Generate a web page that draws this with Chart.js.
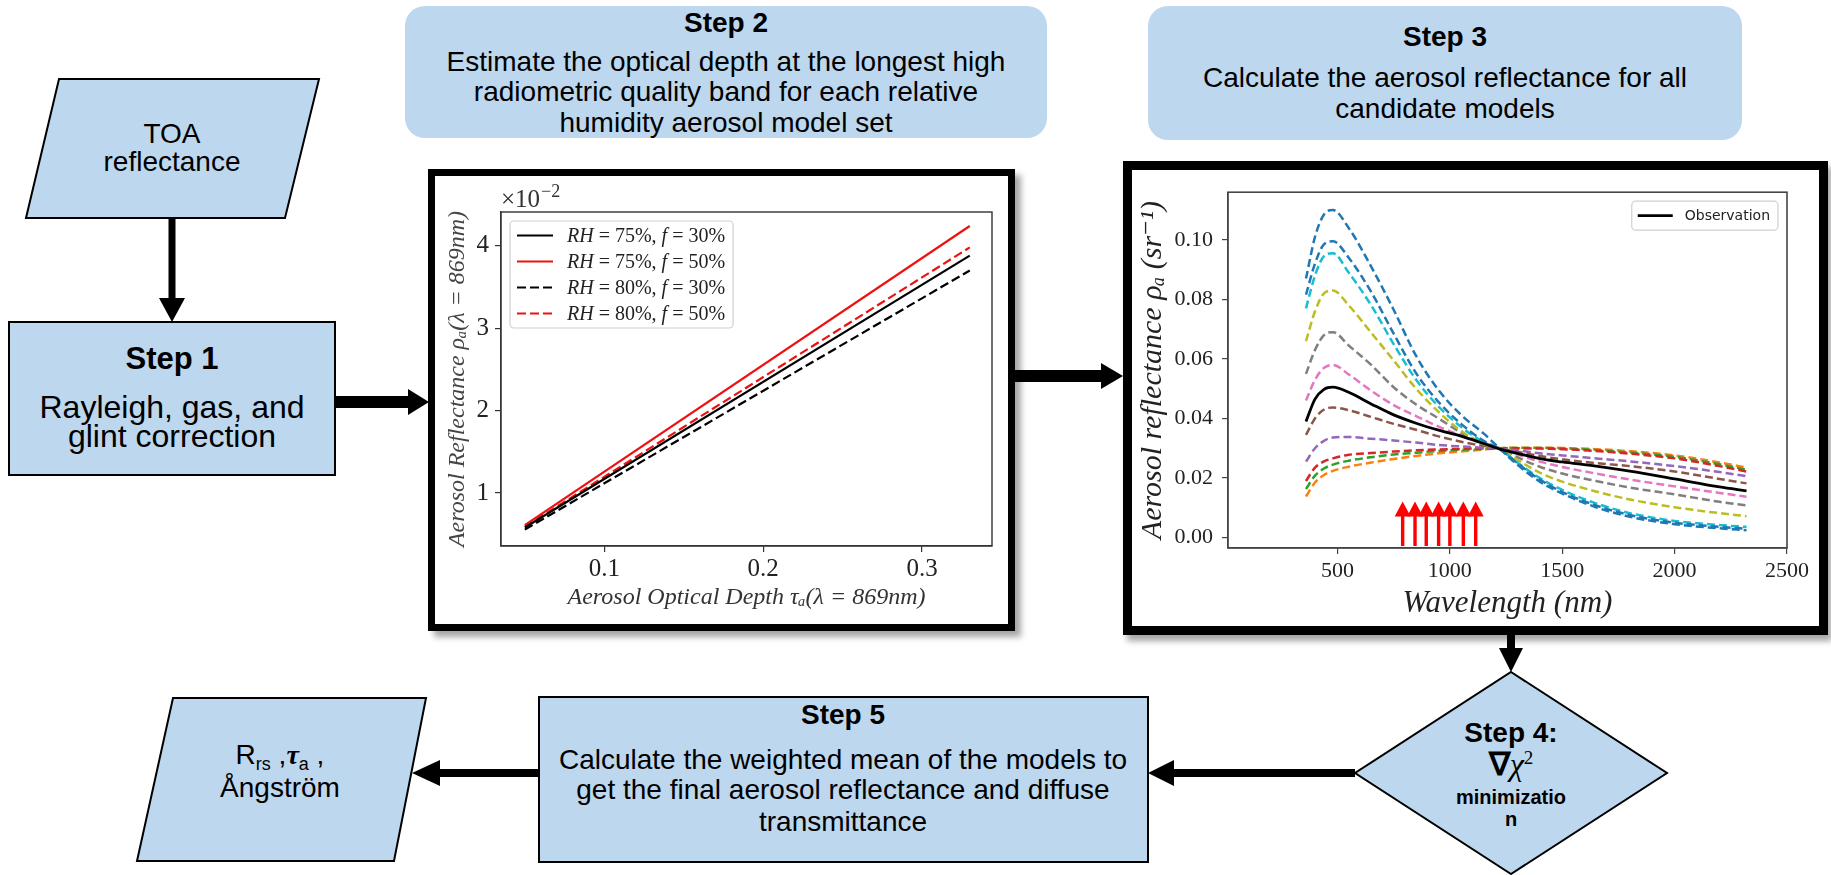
<!DOCTYPE html>
<html>
<head>
<meta charset="utf-8">
<title>Aerosol retrieval steps</title>
<script src="https://cdn.jsdelivr.net/npm/chart.js@4.4.1/dist/chart.umd.min.js"></script>
<style>
  html, body { margin: 0; padding: 0; background: #fff; }
  body { position: relative; width: 1831px; height: 875px; overflow: hidden;
         font-family: "Liberation Sans", Arial, sans-serif; color: #000; }
  svg.flow { position: absolute; left: 0; top: 0; }
  .t { position: absolute; transform: translate(-50%, -50%); white-space: nowrap; line-height: 1; }
  .b { font-weight: bold; }
  .f28 { font-size: 28px; }
  .f32 { font-size: 32px; }
  .panel { position: absolute; box-sizing: border-box; border: solid #000; background: #fff; }
  .panel canvas { display: block; }
  .serif { font-family: "Liberation Serif", serif; }
</style>
</head>
<body>

<svg class="flow" width="1831" height="875">
  <g fill="#BDD7EE" stroke="#000" stroke-width="2">
    <polygon points="59,79 319,79 285,218 26,218"/>
    <rect x="9" y="322" width="326" height="153"/>
    <rect x="539" y="697" width="609" height="165"/>
    <polygon points="173,698 426,698 394,861 137,861"/>
    <polygon points="1511,672 1667,773 1511,874 1355,773"/>
  </g>
  <rect x="405" y="6" width="642" height="132" rx="20" fill="#BDD7EE"/>
  <rect x="1148" y="6" width="594" height="134" rx="20" fill="#BDD7EE"/>

  <!-- connectors -->
  <g stroke="#000">
    <line x1="172" y1="219" x2="172" y2="300" stroke-width="7"/>
    <line x1="336" y1="402" x2="410" y2="402" stroke-width="12"/>
    <line x1="1015" y1="376" x2="1103" y2="376" stroke-width="12"/>
    <line x1="1511" y1="635" x2="1511" y2="650" stroke-width="8"/>
    <line x1="1355" y1="773" x2="1172" y2="773" stroke-width="8"/>
    <line x1="539" y1="773" x2="438" y2="773" stroke-width="8"/>
  </g>
  <g fill="#000">
    <polygon points="159,298 185,298 172,322"/>
    <polygon points="408,389 408,415 429,402"/>
    <polygon points="1101,363 1101,389 1123,376"/>
    <polygon points="1499,648 1523,648 1511,672"/>
    <polygon points="1174,760 1174,786 1148,773"/>
    <polygon points="440,760 440,786 412,773"/>
  </g>
</svg>

<div class="t f28" style="left:172px;top:134px">TOA</div>
<div class="t f28" style="left:172px;top:162px">reflectance</div>

<div class="t b" style="left:172px;top:358px;font-size:31px">Step 1</div>
<div class="t f32" style="left:172px;top:407px">Rayleigh, gas, and</div>
<div class="t f32" style="left:172px;top:436px">glint correction</div>

<div class="t f28 b" style="left:726px;top:23px">Step 2</div>
<div class="t f28" style="left:726px;top:62px">Estimate the optical depth at the longest high</div>
<div class="t f28" style="left:726px;top:92px">radiometric quality band for each relative</div>
<div class="t f28" style="left:726px;top:123px">humidity aerosol model set</div>

<div class="t f28 b" style="left:1445px;top:37px">Step 3</div>
<div class="t f28" style="left:1445px;top:78px">Calculate the aerosol reflectance for all</div>
<div class="t f28" style="left:1445px;top:109px">candidate models</div>

<div class="t b" style="left:1511px;top:733px;font-size:28px">Step 4:</div>
<div class="t" style="left:1511px;top:764px;font-size:32px"><b>&#8711;</b><i class="serif">&#967;</i><sup class="serif" style="font-size:19px">2</sup></div>
<div class="t b" style="left:1511px;top:797px;font-size:20px">minimizatio</div>
<div class="t b" style="left:1511px;top:819px;font-size:20px">n</div>

<div class="t f28 b" style="left:843px;top:715px">Step 5</div>
<div class="t f28" style="left:843px;top:760px">Calculate the weighted mean of the models to</div>
<div class="t f28" style="left:843px;top:790px">get the final aerosol reflectance and diffuse</div>
<div class="t f28" style="left:843px;top:822px">transmittance</div>

<div class="t f28" style="left:280px;top:757px">R<sub style="font-size:18px">rs</sub> ,<b><i class="serif">&#964;</i></b><sub style="font-size:18px">a</sub> ,</div>
<div class="t f28" style="left:280px;top:788px">&#197;ngstr&#246;m</div>

<div class="panel" style="left:428px;top:169px;width:587px;height:462px;border-width:7px;box-shadow:6px 6px 6px rgba(0,0,0,.35)">
  <canvas id="depthChart" width="573" height="448"></canvas>
</div>
<div class="panel" style="left:1123px;top:161px;width:705px;height:474px;border-width:9px;box-shadow:4px 6px 6px rgba(0,0,0,.35)">
  <canvas id="spectraChart" width="687" height="456"></canvas>
</div>

<script>
// ---- Step 2 panel: reflectance at 869 nm (x1e-2) against optical depth ----
const tauRange   = [0.05, 0.33];
const rhoRH75f30 = [0.58, 3.88];
const rhoRH75f50 = [0.61, 4.24];
const rhoRH80f30 = [0.555, 3.70];
const rhoRH80f50 = [0.59, 3.98];
const tauTicks = [0.1, 0.2, 0.3];
const rhoTicks = [1, 2, 3, 4];

// ---- Step 3 panel: candidate model spectra ----
const wavelengths = [360, 400, 440, 480, 550, 650, 750, 850, 950, 1050, 1150, 1220, 1300, 1400, 1500, 1650, 1800, 2000, 2200, 2320];
const observation = [.0390, .0465, .0498, .0505, .0488, .0449, .0412, .0384, .0361, .0341, .0316, .0298, .0283, .0265, .0254, .0240, .0223, .0197, .0170, .0157];
const modelBlueA  = [.0870, .1010, .1085, .1100, .1040, .0910, .0765, .0610, .0495, .0412, .0350, .0300, .0245, .0188, .0148, .0102, .0070, .0045, .0031, .0025];
const modelBlueB  = [.0816, .0920, .0985, .0995, .0940, .0825, .0685, .0552, .0455, .0382, .0325, .0298, .0250, .0195, .0153, .0108, .0076, .0050, .0036, .0030];
const modelCyan   = [.0770, .0880, .0945, .0955, .0890, .0780, .0650, .0530, .0440, .0372, .0320, .0298, .0252, .0200, .0160, .0115, .0082, .0056, .0042, .0036];
const modelOlive  = [.0660, .0760, .0820, .0830, .0780, .0688, .0595, .0500, .0422, .0358, .0315, .0299, .0262, .0218, .0188, .0155, .0128, .0102, .0082, .0072];
const modelGray   = [.0550, .0630, .0680, .0690, .0645, .0580, .0505, .0447, .0400, .0352, .0313, .0300, .0270, .0238, .0215, .0190, .0168, .0145, .0120, .0108];
const modelPink   = [.0460, .0530, .0570, .0580, .0548, .0493, .0445, .0408, .0373, .0343, .0318, .0301, .0280, .0255, .0237, .0215, .0195, .0172, .0150, .0137];
const modelBrown  = [.0345, .0400, .0430, .0437, .0428, .0405, .0382, .0362, .0340, .0322, .0308, .0299, .0288, .0274, .0263, .0250, .0240, .0222, .0197, .0182];
const modelPurple = [.0255, .0300, .0325, .0336, .0338, .0332, .0326, .0319, .0311, .0306, .0302, .0299, .0293, .0283, .0276, .0266, .0256, .0240, .0220, .0206];
const modelRed    = [.0190, .0235, .0256, .0266, .0278, .0284, .0289, .0293, .0296, .0298, .0300, .0300, .0300, .0299, .0297, .0291, .0282, .0266, .0240, .0222];
const modelGreen  = [.0163, .0208, .0232, .0245, .0258, .0270, .0279, .0285, .0291, .0295, .0298, .0300, .0301, .0301, .0299, .0294, .0286, .0271, .0246, .0228];
const modelOrange = [.0138, .0185, .0210, .0224, .0238, .0252, .0264, .0274, .0283, .0289, .0296, .0300, .0302, .0302, .0301, .0297, .0290, .0276, .0252, .0235];
const bandCenters = [790, 845, 895, 950, 1000, 1060, 1115];
const arrowTip = 0.0121;
const wlTicks = [500, 1000, 1500, 2000, 2500];
const reflTicks = [0, 0.02, 0.04, 0.06, 0.08, 0.10];

const serif = '"Liberation Serif", "DejaVu Serif", serif';

// letters in italic, everything else upright (math-style labels)
function mathParts(str, math) {
  return math ? str.split(/([A-Za-z]+)/).filter(p => p) : [str];
}
function setFont(ctx, part, size, family, math) {
  const ital = math && /^[A-Za-z]+$/.test(part);
  ctx.font = (ital ? 'italic ' : '') + size + 'px ' + family;
}
function mathWidth(ctx, str, size, family, math) {
  let w = 0;
  mathParts(str, math).forEach(p => { setFont(ctx, p, size, family, math); w += ctx.measureText(p).width; });
  return w;
}
function drawMath(ctx, str, x, y, size, family, math) {
  let cx = x;
  mathParts(str, math).forEach(p => {
    setFont(ctx, p, size, family, math);
    ctx.fillText(p, cx, y);
    cx += ctx.measureText(p).width;
  });
}

// four-sided axes frame
const frame = {
  id: 'frame',
  afterDatasetsDraw(chart, args, o) {
    const { ctx, chartArea: a } = chart;
    ctx.save();
    ctx.strokeStyle = o.color;
    ctx.lineWidth = o.width;
    ctx.strokeRect(a.left, a.top, a.right - a.left, a.bottom - a.top);
    ctx.restore();
  }
};

// boxed legend drawn inside the plot area
const frameLegend = {
  id: 'frameLegend',
  afterDraw(chart, args, o) {
    const { ctx, chartArea: a } = chart;
    const items = chart.data.datasets.filter(d => d.label);
    ctx.save();
    ctx.textBaseline = 'middle';
    const textW = Math.max(...items.map(d => mathWidth(ctx, d.label, o.size, o.family, o.math)));
    const w = o.textX + textW + o.padRight;
    const h = o.rowH * items.length + o.padV;
    const x0 = o.side === 'right' ? a.right - o.inset - w : a.left + o.inset;
    const y0 = a.top + o.inset;
    ctx.fillStyle = 'rgba(255,255,255,0.85)';
    ctx.strokeStyle = '#cfcfcf';
    ctx.lineWidth = 1.2;
    ctx.beginPath();
    ctx.roundRect(x0, y0, w, h, 4);
    ctx.fill();
    ctx.stroke();
    items.forEach((d, i) => {
      const cy = y0 + o.padV / 2 + o.rowH * (i + 0.5);
      ctx.strokeStyle = d.borderColor;
      ctx.lineWidth = d.borderWidth;
      ctx.setLineDash(d.borderDash || []);
      ctx.beginPath();
      ctx.moveTo(x0 + o.lineX, cy);
      ctx.lineTo(x0 + o.lineX + o.lineLen, cy);
      ctx.stroke();
      ctx.setLineDash([]);
      ctx.fillStyle = o.color;
      drawMath(ctx, d.label, x0 + o.textX, cy + 1, o.size, o.family, o.math);
    });
    ctx.restore();
  }
};

// "x10^-2" multiplier above the y axis
const offsetText = {
  id: 'offsetText',
  afterDraw(chart, args, o) {
    const { ctx, chartArea: a } = chart;
    ctx.save();
    ctx.fillStyle = o.color;
    ctx.textBaseline = 'alphabetic';
    ctx.font = '25px ' + serif;
    ctx.fillText('\u00d710', a.left, a.top - 5);
    const w = ctx.measureText('\u00d710').width;
    ctx.font = '18px ' + serif;
    ctx.fillText('\u22122', a.left + w + 1, a.top - 15);
    ctx.restore();
  }
};

// upward arrows marking the bands used for the fit
const bandArrows = {
  id: 'bandArrows',
  afterDatasetsDraw(chart, args, o) {
    const { ctx, chartArea: a, scales: { x, y } } = chart;
    ctx.save();
    ctx.fillStyle = o.color;
    ctx.strokeStyle = o.color;
    ctx.lineWidth = 3.4;
    o.bands.forEach(b => {
      const px = x.getPixelForValue(b);
      const top = y.getPixelForValue(o.tip);
      ctx.beginPath();
      ctx.moveTo(px, a.bottom - 2);
      ctx.lineTo(px, top + 12);
      ctx.stroke();
      ctx.beginPath();
      ctx.moveTo(px - 8, top + 15);
      ctx.lineTo(px, top);
      ctx.lineTo(px + 8, top + 15);
      ctx.closePath();
      ctx.fill();
    });
    ctx.restore();
  }
};

function axisStyle(color) {
  return {
    grid: { drawOnChartArea: false, drawTicks: true, tickLength: 6, color: color, lineWidth: 1.2 },
    border: { color: color, width: 1.2 }
  };
}

// Step 2 chart
const depthLine = (label, values, color, dash) => ({
  label,
  data: tauRange.map((t, i) => ({ x: t, y: values[i] })),
  borderColor: color, borderWidth: 2.2, borderDash: dash,
  pointRadius: 0, fill: false, tension: 0
});

new Chart(document.getElementById('depthChart'), {
  type: 'line',
  data: {
    datasets: [
      depthLine('RH = 75%, f = 30%', rhoRH75f30, '#000000', []),
      depthLine('RH = 75%, f = 50%', rhoRH75f50, '#ee1111', []),
      depthLine('RH = 80%, f = 30%', rhoRH80f30, '#000000', [9, 4]),
      depthLine('RH = 80%, f = 50%', rhoRH80f50, '#ee1111', [9, 4])
    ]
  },
  options: {
    responsive: false, animation: false, events: [],
    layout: { padding: { top: 36, right: 16, bottom: 0, left: 0 } },
    plugins: {
      legend: { display: false }, tooltip: { enabled: false },
      frame: { color: '#333', width: 1.4 },
      frameLegend: { side: 'left', inset: 9, rowH: 26, padV: 3, lineX: 7, lineLen: 36, textX: 57, padRight: 8,
                     size: 20, family: serif, math: true, color: '#222' },
      offsetText: { color: '#333' }
    },
    scales: {
      x: {
        type: 'linear', min: 0.035, max: 0.344,
        afterFit: s => { s.height = 78; },
        afterBuildTicks: s => { s.ticks = tauTicks.map(v => ({ value: v })); },
        ...axisStyle('#333'),
        ticks: { color: '#222', font: { family: serif, size: 25 }, padding: 2, autoSkip: false, maxRotation: 0,
                 callback: v => v.toFixed(1) },
        title: { display: true, text: 'Aerosol Optical Depth \u03c4\u2090(\u03bb = 869nm)', color: '#333',
                 font: { family: serif, size: 24, style: 'italic' }, padding: { top: 0, bottom: 12 } }
      },
      y: {
        type: 'linear', min: 0.356, max: 4.41,
        afterFit: s => { s.width = 66; },
        afterBuildTicks: s => { s.ticks = rhoTicks.map(v => ({ value: v })); },
        ...axisStyle('#333'),
        ticks: { color: '#222', font: { family: serif, size: 25 }, padding: 6, autoSkip: false,
                 callback: v => v.toFixed(0) },
        title: { display: true, text: 'Aerosol Reflectance \u03c1\u2090(\u03bb = 869nm)', color: '#444',
                 font: { family: serif, size: 24, style: 'italic' }, padding: { top: 8, bottom: 0 } }
      }
    }
  },
  plugins: [frame, frameLegend, offsetText]
});

// Step 3 chart
const spectrum = (label, values, color, dash, width) => ({
  label,
  data: wavelengths.map((w, i) => ({ x: w, y: values[i] })),
  borderColor: color, borderWidth: width, borderDash: dash,
  pointRadius: 0, fill: false, cubicInterpolationMode: 'monotone'
});
const dash = [8, 4];

new Chart(document.getElementById('spectraChart'), {
  type: 'line',
  data: {
    datasets: [
      spectrum('Observation', observation, '#000000', [], 2.8),
      spectrum('', modelBlueA, '#1f77b4', dash, 2.5),
      spectrum('', modelBlueB, '#1f77b4', dash, 2.5),
      spectrum('', modelCyan, '#17becf', dash, 2.5),
      spectrum('', modelOlive, '#bcbd22', dash, 2.5),
      spectrum('', modelGray, '#7f7f7f', dash, 2.5),
      spectrum('', modelPink, '#e377c2', dash, 2.5),
      spectrum('', modelBrown, '#8c564b', dash, 2.5),
      spectrum('', modelPurple, '#9467bd', dash, 2.5),
      spectrum('', modelRed, '#d62728', dash, 2.5),
      spectrum('', modelGreen, '#2ca02c', dash, 2.5),
      spectrum('', modelOrange, '#ff7f0e', dash, 2.5)
    ]
  },
  options: {
    responsive: false, animation: false, events: [],
    layout: { padding: { top: 13, right: 32, bottom: 0, left: 0 } },
    plugins: {
      legend: { display: false }, tooltip: { enabled: false },
      frame: { color: '#444', width: 1.6 },
      frameLegend: { side: 'right', inset: 9, rowH: 26, padV: 3, lineX: 6, lineLen: 35, textX: 53, padRight: 8,
                     size: 14, family: '"DejaVu Sans", sans-serif', math: false, color: '#222' },
      bandArrows: { bands: bandCenters, tip: arrowTip, color: '#ff0000' }
    },
    scales: {
      x: {
        type: 'linear', min: 13, max: 2500,
        afterFit: s => { s.height = 78; },
        afterBuildTicks: s => { s.ticks = wlTicks.map(v => ({ value: v })); },
        ...axisStyle('#444'),
        ticks: { color: '#222', font: { family: serif, size: 22 }, padding: 4, autoSkip: false, maxRotation: 0,
                 callback: v => String(v) },
        title: { display: true, text: 'Wavelength (nm)', color: '#222',
                 font: { family: serif, size: 31, style: 'italic' }, padding: { top: 0, bottom: 4 } }
      },
      y: {
        type: 'linear', min: -0.0035, max: 0.116,
        afterFit: s => { s.width = 96; },
        afterBuildTicks: s => { s.ticks = reflTicks.map(v => ({ value: v })); },
        ...axisStyle('#444'),
        ticks: { color: '#222', font: { family: serif, size: 22 }, padding: 9, autoSkip: false,
                 callback: v => v.toFixed(2) },
        title: { display: true, text: 'Aerosol reflectance \u03c1\u2090 (sr\u207b\u00b9)', color: '#222',
                 font: { family: serif, size: 30, style: 'italic' }, padding: { top: 3, bottom: 0 } }
      }
    }
  },
  plugins: [frame, bandArrows, frameLegend]
});
</script>
</body>
</html>
